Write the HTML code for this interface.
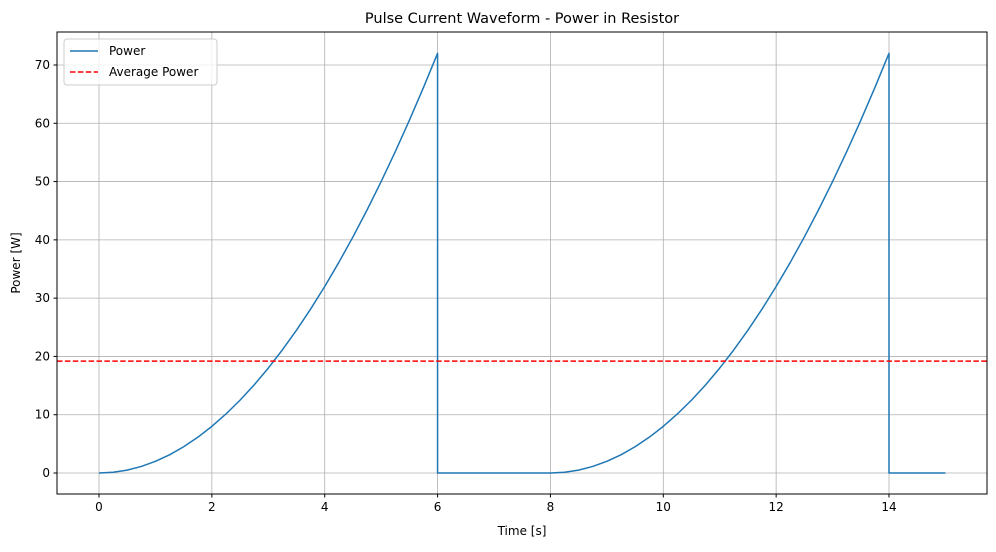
<!DOCTYPE html>
<html><head><meta charset="utf-8"><style>
body{margin:0;background:#fff;font-family:"Liberation Sans","DejaVu Sans",sans-serif;}
svg text{font-family:"DejaVu Sans","Liberation Sans",sans-serif;}
</style></head><body>
<svg id="chart" width="996" height="547" xmlns="http://www.w3.org/2000/svg">
<rect width="996" height="547" fill="#fff"/>
<text x="522" y="23" font-size="14.5" text-anchor="middle" fill="#000">Pulse Current Waveform - Power in Resistor</text>
<g id="grid"></g>
<g id="ticks"></g>
<g id="series"></g>
<rect x="57" y="32" width="930" height="462" fill="none" stroke="#000" stroke-width="1"/>
<text x="522" y="535" font-size="12" text-anchor="middle">Time [s]</text>
<text x="20" y="263" font-size="12" text-anchor="middle" transform="rotate(-90 20 263)">Power [W]</text>
<g>
<rect x="64" y="39" width="153" height="46" rx="3" fill="#fff" fill-opacity="0.8" stroke="#ccc"/>
<g>
<line x1="70" y1="51" x2="98" y2="51" stroke="#1f77b4" stroke-width="1.5"/>
<text x="109" y="55" font-size="12">Power</text></g>
<g>
<line x1="70" y1="72" x2="98" y2="72" stroke="#ff0000" stroke-width="1.5" stroke-dasharray="5.5,2.4"/>
<text x="109" y="76" font-size="12">Average Power</text></g>
</g>
</svg>
<script>
const times=[0,0.25,0.5,0.75,1,1.25,1.5,1.75,2,2.25,2.5,2.75,3,3.25,3.5,3.75,4,4.25,4.5,4.75,5,5.25,5.5,5.75,6,6,7,8,8.25,8.5,8.75,9,9.25,9.5,9.75,10,10.25,10.5,10.75,11,11.25,11.5,11.75,12,12.25,12.5,12.75,13,13.25,13.5,13.75,14,14,15];
const power=[0,0.125,0.5,1.125,2,3.125,4.5,6.125,8,10.125,12.5,15.125,18,21.125,24.5,28.125,32,36.125,40.5,45.125,50,55.125,60.5,66.125,72,0,0,0,0.125,0.5,1.125,2,3.125,4.5,6.125,8,10.125,12.5,15.125,18,21.125,24.5,28.125,32,36.125,40.5,45.125,50,55.125,60.5,66.125,72,0,0];
const averagePower=[19.2];
const xTicks=[0,2,4,6,8,10,12,14];
const yTicks=[0,10,20,30,40,50,60,70];
const NS="http://www.w3.org/2000/svg";
const L=57,R=987,T=32,B=494;
function sx(v){return 99+v*(889-99)/14;}
function sy(v){return 473-v*(473-65)/70;}
function mk(tag,attrs,parent){const e=document.createElementNS(NS,tag);for(const k in attrs)e.setAttribute(k,attrs[k]);parent.appendChild(e);return e;}
const grid=document.getElementById('grid'),ticks=document.getElementById('ticks'),series=document.getElementById('series');
xTicks.forEach(v=>{const x=sx(v);
 const g=mk('line',{x1:x,y1:T,x2:x,y2:B,stroke:'#b0b0b0','stroke-width':0.8},grid);
 
 
 mk('line',{x1:x,y1:B,x2:x,y2:B+3.5,stroke:'#000'},ticks);
 const t=mk('text',{x:x,y:B+17,'font-size':12,'text-anchor':'middle'},ticks);t.textContent=v;
 
 
});
yTicks.forEach(v=>{const y=sy(v);
 const g=mk('line',{x1:L,y1:y,x2:R,y2:y,stroke:'#b0b0b0','stroke-width':0.8},grid);
 
 
 mk('line',{x1:L-3.5,y1:y,x2:L,y2:y,stroke:'#000'},ticks);
 const t=mk('text',{x:L-7,y:y+4,'font-size':12,'text-anchor':'end'},ticks);t.textContent=v;
 
 
});
const d=times.map((t,i)=>(i?'L':'M')+sx(t).toFixed(2)+','+sy(power[i]).toFixed(2)).join(' ');
const p=mk('path',{d:d,fill:'none',stroke:'#1f77b4','stroke-width':1.5,'stroke-linejoin':'round'},series);


const a=mk('line',{x1:L,y1:sy(averagePower[0]),x2:R,y2:sy(averagePower[0]),stroke:'#ff0000','stroke-width':1.5,'stroke-dasharray':'5.5,2.4'},series);


</script>
</body></html>
